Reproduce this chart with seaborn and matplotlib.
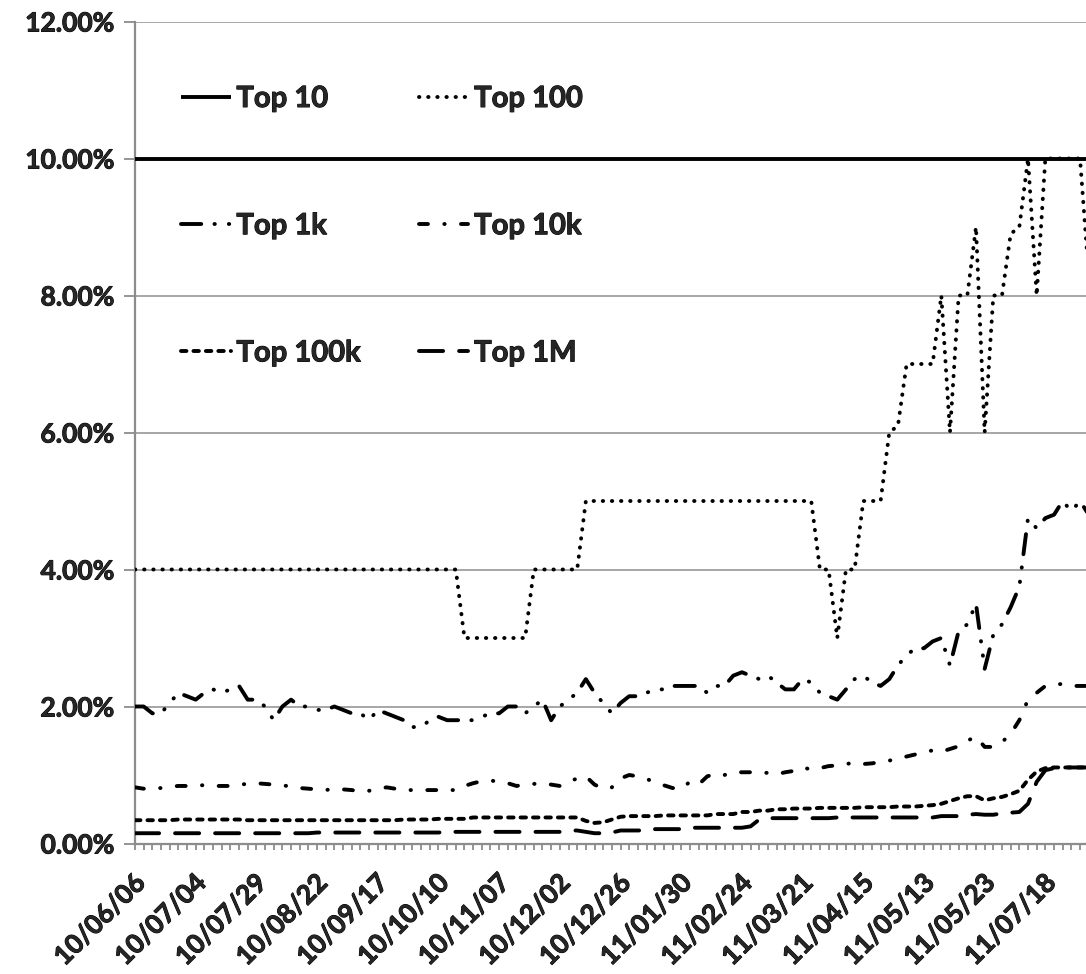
import numpy as np
import pandas as pd
import matplotlib
matplotlib.use("Agg")
import matplotlib.pyplot as plt
import matplotlib.transforms as mtransforms
import matplotlib.patheffects as pe
import seaborn as sns
from matplotlib.lines import Line2D

# ---------------- data (shares in %) ----------------
tick_labels = ["10/06/06", "10/07/04", "10/07/29", "10/08/22", "10/09/17", "10/10/10",
               "10/11/07", "10/12/02", "10/12/26", "11/01/30", "11/02/24", "11/03/21",
               "11/04/15", "11/05/13", "11/05/23", "11/07/18"]
label_every = 7

series_names = ["Top 10", "Top 100", "Top 1k", "Top 10k", "Top 100k", "Top 1M"]

top10 = [10.0] * 111

top100 = ([4.0] * 38 + [3.0] * 8 + [4.0] * 6 + [5.0] * 27 +
          [4.0, 4.0, 3.0, 4.0, 4.0, 5.0, 5.0, 5.0, 6.0, 6.1, 7.0, 7.0, 7.0, 7.0,
           8.0, 6.0, 8.0, 8.0, 9.0, 6.0, 8.0, 8.0, 8.9, 9.0, 10.0, 8.0,
           10.0, 10.0, 10.0, 10.0, 10.0, 8.3])

top1k = [2.0, 2.0, 1.9, 1.9, 2.05, 2.2, 2.15, 2.1, 2.2, 2.25,
         2.2, 2.25, 2.3, 2.1, 2.1, 2.0, 1.8, 2.0, 2.1, 2.0,
         2.0, 1.95, 1.95, 2.0, 1.95, 1.9, 1.9, 1.8, 1.95, 1.9,
         1.85, 1.8, 1.7, 1.7, 1.8, 1.85, 1.8, 1.8, 1.8, 1.8,
         1.85, 1.9, 1.9, 2.0, 2.0, 1.9, 2.0, 2.1, 1.8, 2.0,
         2.1, 2.2, 2.4, 2.2, 2.05, 1.9, 2.05, 2.15, 2.15, 2.2,
         2.25, 2.25, 2.3, 2.3, 2.3, 2.3, 2.2, 2.3, 2.3, 2.45,
         2.5, 2.45, 2.4, 2.45, 2.35, 2.25, 2.25, 2.4, 2.35, 2.2,
         2.15, 2.1, 2.25, 2.4, 2.45, 2.35, 2.3, 2.4, 2.6, 2.75,
         2.85, 2.85, 2.95, 3.0, 2.6, 3.1, 3.2, 3.5, 2.55, 3.05,
         3.2, 3.45, 3.75, 4.75, 4.6, 4.75, 4.8, 5.0, 4.85, 5.0,
         4.8]

top10k = [0.82, 0.8, 0.8, 0.81, 0.83, 0.84, 0.84, 0.85, 0.85, 0.84,
          0.84, 0.84, 0.86, 0.87, 0.88, 0.87, 0.86, 0.85, 0.83, 0.81,
          0.8, 0.79, 0.78, 0.8, 0.79, 0.78, 0.76, 0.77, 0.79, 0.82,
          0.8, 0.78, 0.78, 0.78, 0.78, 0.78, 0.78, 0.78, 0.84, 0.88,
          0.91, 0.92, 0.9, 0.88, 0.84, 0.86, 0.87, 0.88, 0.86, 0.84,
          0.9, 0.95, 0.98, 0.86, 0.8, 0.82, 0.95, 1.0, 0.98, 0.94,
          0.9, 0.85, 0.81, 0.8, 0.9, 0.86, 0.98, 1.02, 1.0, 1.04,
          1.04, 1.04, 1.04, 1.03, 1.01, 1.04, 1.06, 1.11, 1.08, 1.1,
          1.13, 1.14, 1.16, 1.18, 1.16, 1.17, 1.19, 1.21, 1.24, 1.27,
          1.3, 1.33, 1.36, 1.34, 1.38, 1.42, 1.5, 1.56, 1.41, 1.41,
          1.48, 1.6, 1.8, 2.1, 2.2, 2.3, 2.32, 2.33, 2.3, 2.3,
          2.3]

top100k = ([0.34] * 5 + [0.35] * 8 + [0.34] * 18 + [0.35] * 4 + [0.36] * 4 +
           [0.38] * 13 + [0.33, 0.30, 0.31, 0.35, 0.39] + [0.40] * 4 + [0.41] * 6 +
           [0.43] * 3 + [0.46, 0.46, 0.48, 0.48, 0.50, 0.50, 0.51, 0.51, 0.51] +
           [0.52] * 5 + [0.53] * 4 + [0.54] * 3 +
           [0.55, 0.56, 0.58, 0.62, 0.66, 0.69, 0.69, 0.63, 0.66, 0.68, 0.72,
            0.77, 0.93, 1.05, 1.10, 1.11, 1.11, 1.11, 1.11, 1.11])

top1m = ([0.15] * 21 + [0.16] * 15 + [0.17] * 14 + [0.19, 0.19, 0.17, 0.15, 0.15, 0.16] +
         [0.19] * 4 + [0.21] * 4 + [0.23] * 7 + [0.25, 0.35] + [0.37] * 8 + [0.38] * 12 +
         [0.40, 0.40, 0.40, 0.42, 0.43, 0.42, 0.42, 0.44, 0.45, 0.46, 0.58, 0.90, 1.07,
          1.10, 1.11, 1.11, 1.11, 1.11])

values = [top10, top100, top1k, top10k, top100k, top1m]

# ---------------- long table ----------------
frames = []
for name, vals in zip(series_names, values):
    frames.append(pd.DataFrame({"idx": np.arange(len(vals)), "share": vals, "series": name}))
df = pd.concat(frames, ignore_index=True)
n = len(top10)

# ---------------- style ----------------
sns.set_style("white")
plt.rcParams["font.family"] = ["Lato", "DejaVu Sans"]
plt.rcParams["font.weight"] = "bold"

W, H = 1086, 974
fig = plt.figure(figsize=(W / 100, H / 100), dpi=100)
step = 8.67
x0, y0, y12 = 135.0, 843.5, 21.5
ax = fig.add_axes([x0 / W, (H - y0) / H, (n - 1) * step / W, (y0 - y12) / H])

LW = 2.8
dash_map = {
    "Top 10": "",
    "Top 100": (0.1, 2.25),
    "Top 1k": (5.2, 3.4, 0.1, 3.6, 0.1, 3.4),
    "Top 10k": (2.3, 4.2, 0.1, 4.2),
    "Top 100k": (1.4, 1.8),
    "Top 1M": (6.2, 4.1),
}

sns.lineplot(data=df, x="idx", y="share", style="series", style_order=series_names,
             dashes=dash_map, color="black", linewidth=LW, legend=False, ax=ax,
             sort=False, zorder=3)
for ln in ax.lines:
    ln.set_dash_capstyle("round")
    ln.set_solid_capstyle("butt")
    ln.set_clip_on(True)

ax.set_xlim(0, n - 1)
ax.set_ylim(0, 12)
ax.set_xlabel("")
ax.set_ylabel("")

grey = "#8c8c8c"
ax.set_yticks(np.arange(0, 12.01, 2))
ax.set_yticklabels([f"{v:.2f}%" for v in np.arange(0, 12.01, 2)])
ax.yaxis.grid(True, color="#a6a6a6", linewidth=1.4, zorder=0)
ax.xaxis.grid(False)
ax.set_axisbelow(True)

xt = np.arange(n)
xl = [""] * n
for k, lab in enumerate(tick_labels):
    xl[k * label_every] = lab
ax.set_xticks(xt)
ax.set_xticklabels(xl, rotation=45, ha="right", va="center", rotation_mode="anchor")

ax.tick_params(axis="y", direction="out", length=8, width=1.3, color=grey,
               labelsize=19, pad=7, left=True)
ax.tick_params(axis="x", direction="out", length=4.5, width=1.3, color=grey,
               labelsize=19, pad=21, bottom=True)

stroke = [pe.withStroke(linewidth=0.7, foreground="black")]
shift = mtransforms.ScaledTranslation(0.06, 0, fig.dpi_scale_trans)
for lab in ax.get_xticklabels():
    lab.set_fontweight("bold")
    lab.set_path_effects(stroke)
    lab.set_transform(lab.get_transform() + shift)
for lab in ax.get_yticklabels():
    lab.set_fontweight("bold")
    lab.set_path_effects(stroke)

for s in ["top", "right"]:
    ax.spines[s].set_visible(False)
for s in ["left", "bottom"]:
    ax.spines[s].set_color(grey)
    ax.spines[s].set_linewidth(1.6)

# ---------------- legend ----------------
handles = {}
for name in series_names:
    d = dash_map[name]
    h = Line2D([0], [0], color="black", linewidth=LW, solid_capstyle="butt",
               dash_capstyle="round")
    if d != "":
        h.set_dashes(d)
    handles[name] = h
order = ["Top 10", "Top 1k", "Top 100k", "Top 100", "Top 10k", "Top 1M"]
leg = ax.legend([handles[k] for k in order], order, ncol=2, frameon=False,
                loc="upper left", bbox_to_anchor=(181 / W, 1 - 86 / H),
                bbox_transform=fig.transFigure, borderpad=0, borderaxespad=0,
                handlelength=1.7, handletextpad=0.2, columnspacing=2.0,
                labelspacing=3.47, prop={"family": "Lato", "weight": "bold", "size": 21})
for t in leg.get_texts():
    t.set_path_effects(stroke)

fig.savefig("out.png", dpi=100)
